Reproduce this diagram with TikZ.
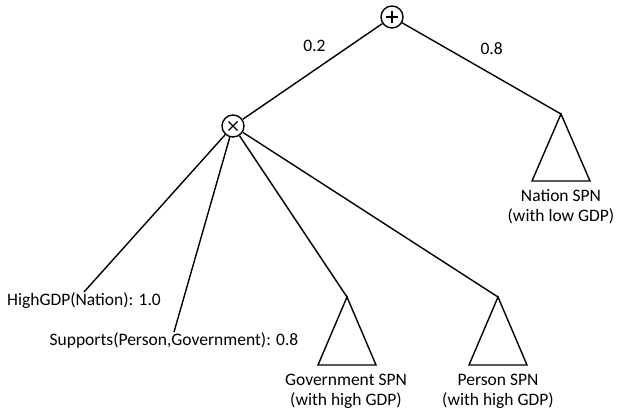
\documentclass[tikz,border=0pt]{standalone}
\usepackage{fontspec}
\setmainfont{Carlito}
\usepackage{tikz}
\usetikzlibrary{positioning}

\begin{document}
\begin{tikzpicture}[x=1pt, y=-1pt, line width=1.4pt,
    op/.style={draw, circle, minimum size=22pt, inner sep=0pt, fill=white},
    txt/.style={font=\fontsize{17.5}{20}\selectfont, inner sep=0pt, align=center}]
    \useasboundingbox (0,0) rectangle (618,415);

    % sum and product nodes
    \node[op] (sum) at (392,17) {};
    \node[op] (prod) at (233,126) {};
    \draw ([xshift=-6pt]sum.center) -- ([xshift=6pt]sum.center);
    \draw ([yshift=-6pt]sum.center) -- ([yshift=6pt]sum.center);
    \draw ([shift={(-4.5pt,-4.5pt)}]prod.center) -- ([shift={(4.5pt,4.5pt)}]prod.center);
    \draw ([shift={(-4.5pt,4.5pt)}]prod.center) -- ([shift={(4.5pt,-4.5pt)}]prod.center);

    % apexes of the sub-SPN triangles
    \coordinate (nat) at (561,114);
    \coordinate (gov) at (347,297);
    \coordinate (per) at (498,297);

    \draw (nat) -- ++(-29,67) -- ++(58,0) -- cycle;
    \draw (gov) -- ++(-29,68) -- ++(58,0) -- cycle;
    \draw (per) -- ++(-29,68) -- ++(58,0) -- cycle;

    \node[txt, anchor=north] (natlbl) at (561,189) {Nation SPN\\(with low GDP)};
    \node[txt, anchor=north] (govlbl) at (346,373) {Government SPN\\(with high GDP)};
    \node[txt, anchor=north] (perlbl) at (498,373) {Person SPN\\(with high GDP)};

    % leaves
    \node[txt, anchor=north] (high) at (84,292) {HighGDP(Nation): 1.0};
    \node[txt, anchor=north] (supp) at (174,332) {Supports(Person,Government): 0.8};

    \draw (sum) -- node[txt, midway, xshift=2pt, yshift=26pt] {0.2} (prod);
    \draw (sum) -- node[txt, midway, xshift=10pt, yshift=20pt] {0.8} (nat);
    \draw (prod) -- (high.north);
    \draw (prod) -- (supp.north);
    \draw (prod) -- (gov);
    \draw (prod) -- (per);
\end{tikzpicture}
\end{document}
